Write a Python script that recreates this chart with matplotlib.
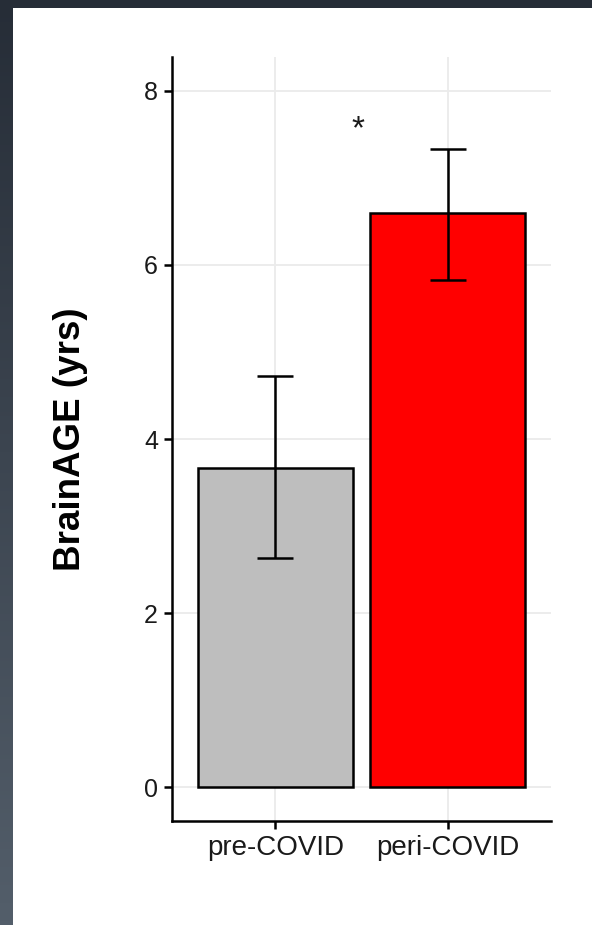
import matplotlib.pyplot as plt
import numpy as np
from matplotlib.patches import Rectangle
from matplotlib.colors import LinearSegmentedColormap

plt.rcParams['font.family'] = ['Liberation Sans', 'DejaVu Sans']

groups = ['pre-COVID', 'peri-COVID']
brainage = [3.67, 6.60]
err_low = [2.63, 5.83]
err_high = [4.72, 7.33]
bar_colors = ['#bebebe', '#ff0000']
yticks = [0, 2, 4, 6, 8]

fig = plt.figure(figsize=(5.92, 9.25), dpi=100)
fig.patch.set_facecolor('white')

# dark slide frame on the left and top
bg = fig.add_axes([0, 0, 13 / 592, 1])
grad = np.linspace(0, 1, 256).reshape(-1, 1)
cm = LinearSegmentedColormap.from_list('slide', ['#535e6a', '#262d37'])
bg.imshow(grad, aspect='auto', cmap=cm, origin='lower', extent=[0, 1, 0, 1])
bg.set_axis_off()
fig.patches.append(Rectangle((0, 1 - 8 / 925), 1, 8 / 925, transform=fig.transFigure,
                             facecolor='#262d37', edgecolor='none', zorder=0))

ax = fig.add_axes([172 / 592, 1 - 821 / 925, 379 / 592, 764 / 925])
x = np.arange(1, len(groups) + 1)
ax.bar(x, brainage, width=0.9, color=bar_colors, edgecolor='black', linewidth=1.8, zorder=2)
lo = np.array(brainage) - np.array(err_low)
hi = np.array(err_high) - np.array(brainage)
ax.errorbar(x, brainage, yerr=[lo, hi], fmt='none', ecolor='black', elinewidth=1.8,
            capsize=13, capthick=1.8, zorder=3)
ax.text(1.48, 7.55, '*', ha='center', va='center', fontsize=24, color='#1a1a1a')

ax.set_xlim(0.4, 2.6)
ax.set_ylim(-0.39, 8.39)
ax.set_xticks(x)
ax.set_xticklabels(groups, fontsize=20)
ax.set_yticks(yticks)
ax.set_yticklabels([str(t) for t in yticks], fontsize=18)
ax.set_ylabel('BrainAGE (yrs)', fontsize=26.5, fontweight='bold')
ax.yaxis.set_label_coords(-0.222, 0.5)
ax.grid(True, color='#ebebeb', linewidth=1.3, zorder=0)
ax.set_axisbelow(True)
for s in ['top', 'right']:
    ax.spines[s].set_visible(False)
for s in ['left', 'bottom']:
    ax.spines[s].set_linewidth(1.8)
ax.tick_params(axis='both', length=6, width=1.8, colors='black', labelcolor='#1a1a1a', pad=4)

fig.savefig('out.png', dpi=100)
